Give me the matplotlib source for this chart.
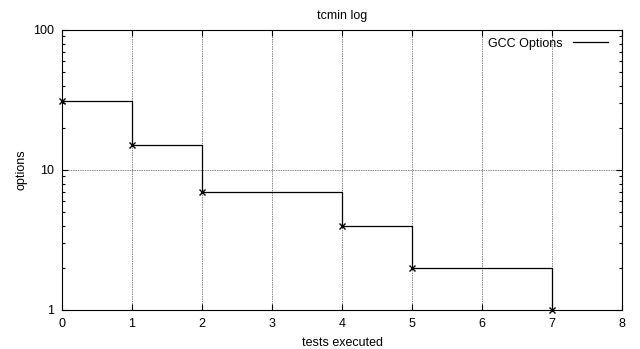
import matplotlib
matplotlib.use("Agg")
import matplotlib.pyplot as plt
from matplotlib.ticker import LogLocator, NullFormatter, FixedLocator

# --- data ---
tests = [0, 1, 2, 4, 5, 7]
options = [31, 15, 7, 4, 2, 1]
x_ticks = [0, 1, 2, 3, 4, 5, 6, 7, 8]
y_ticks = [1, 10, 100]
y_labels = ["1", "10", "100"]

plt.rcParams['font.family'] = ['Liberation Sans', 'DejaVu Sans']
plt.rcParams['font.size'] = 9

fig = plt.figure(figsize=(6.4, 3.49), dpi=100)
ax = fig.add_axes([62 / 640, 1 - 310 / 349, 560 / 640, 280 / 349])

ax.step(tests, options, where='post', color='black', linewidth=0.9, label='GCC Options')
ax.plot(tests, options, linestyle='none', marker='x', color='black',
        markersize=4, markeredgewidth=1.0, clip_on=False, zorder=5)

ax.set_yscale('log')
ax.set_xlim(0, 8)
ax.set_ylim(1, 100)
ax.xaxis.set_major_locator(FixedLocator(x_ticks))
ax.set_yticks(y_ticks)
ax.set_yticklabels(y_labels)
ax.yaxis.set_minor_locator(LogLocator(base=10, subs=range(2, 10)))
ax.yaxis.set_minor_formatter(NullFormatter())

ax.tick_params(which='both', direction='in', top=True, right=True, width=0.8)
ax.tick_params(which='major', length=4, pad=6, labelsize=9)
ax.tick_params(which='minor', length=2)

ax.grid(True, which='major', linestyle=(0, (1, 1.5)), color='black', linewidth=0.5)
for s in ax.spines.values():
    s.set_linewidth(0.8)

ax.set_title('tcmin log', fontsize=9, pad=8)
ax.set_xlabel('tests executed', labelpad=5)
ax.set_ylabel('options', labelpad=4)

ax.legend(loc='upper right', bbox_to_anchor=(1 - 7 / 560, 1), frameon=False,
          markerfirst=False, handlelength=2.8, fontsize=9, borderaxespad=0.2)

fig.savefig('out.png', dpi=100)
